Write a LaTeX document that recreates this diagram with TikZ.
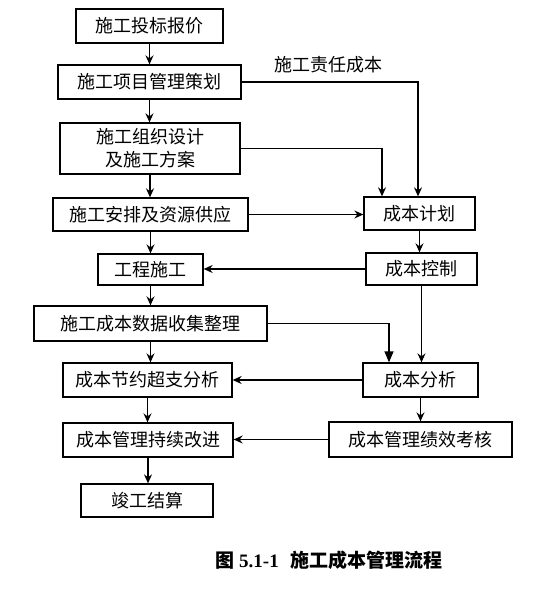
\documentclass[tikz,border=0pt]{standalone}
\usepackage{fontspec}
\setmainfont{Noto Sans CJK SC}
\newfontfamily\numfont{Liberation Serif}
\usetikzlibrary{arrows.meta}
\begin{document}
\begin{tikzpicture}[x=1pt, y=-1pt, >={Stealth[length=9pt, width=8pt, inset=3pt]},
    box/.style={draw, line width=1.3pt, inner sep=0pt, align=center,
      font=\fontsize{18}{23}\selectfont},
    flow/.style={->, line width=1.3pt}]
    \useasboundingbox (0,0) rectangle (559,593);

    % left column
    \node[box, minimum width=147, minimum height=34] (bid) at (149.5,26) {施工投标报价};
    \node[box, minimum width=183, minimum height=34] (plan) at (149.5,82) {施工项目管理策划};
    \node[box, minimum width=180, minimum height=51] (design) at (150,148.5) {施工组织设计\\及施工方案};
    \node[box, minimum width=195, minimum height=33] (supply) at (150.5,214.5) {施工安排及资源供应};
    \node[box, minimum width=105, minimum height=31] (build) at (150.5,269.5) {工程施工};
    \node[box, minimum width=233, minimum height=35] (data) at (150.5,323.5) {施工成本数据收集整理};
    \node[box, minimum width=169, minimum height=34] (saving) at (147.5,380) {成本节约超支分析};
    \node[box, minimum width=170, minimum height=34] (improve) at (148,440) {成本管理持续改进};
    \node[box, minimum width=132, minimum height=33] (settle) at (147,500.5) {竣工结算};

    % right column
    \node[box, minimum width=111, minimum height=33] (costplan) at (419.5,213.5) {成本计划};
    \node[box, minimum width=111, minimum height=32] (control) at (421.5,269) {成本控制};
    \node[box, minimum width=115, minimum height=34] (analysis) at (420.5,380) {成本分析};
    \node[box, minimum width=183, minimum height=35] (assess) at (420.5,439.5) {成本管理绩效考核};

    \node[font=\fontsize{18}{23}\selectfont] (duty) at (328,65) {施工责任成本};
    \node[font=\fontsize{19}{24}\selectfont\bfseries] (caption) at (329,560)
      {图 {\numfont\bfseries 5.1-1}\hspace{0.6em}施工成本管理流程};

    % left column flow
    \draw[flow] (bid.south) -- (bid.south |- plan.north);
    \draw[flow] (plan.south) -- (plan.south |- design.north);
    \draw[flow] (design.south) -- (design.south |- supply.north);
    \draw[flow] (supply.south) -- (supply.south |- build.north);
    \draw[flow] (build.south) -- (build.south |- data.north);
    \draw[flow] (data.south) -- (data.south |- saving.north);
    \draw[flow] (saving.south) -- (saving.south |- improve.north);
    \draw[flow] (improve.south) -- (improve.south |- settle.north);

    % cross links
    \draw[flow] (plan.east) -| ([xshift=-1.5pt]costplan.north);
    \draw[flow] (design.east) -| ([xshift=-37.5pt]costplan.north);
    \draw[flow] (supply.east) -- (supply.east -| costplan.west);
    \draw[flow] (control.west) -- (control.west -| build.east);
    \draw[line width=1.3pt, -{Triangle[length=11pt, width=9pt]}] (data.east) -| ([xshift=-31.5pt]analysis.north);
    \draw[flow] (costplan.south) -- (costplan.south |- control.north);
    \draw[flow] (control.south) -- (control.south |- analysis.north);
    \draw[flow] (analysis.west) -- (analysis.west -| saving.east);
    \draw[flow] (analysis.south) -- (analysis.south |- assess.north);
    \draw[flow] (assess.west) -- (assess.west -| improve.east);
\end{tikzpicture}
\end{document}
